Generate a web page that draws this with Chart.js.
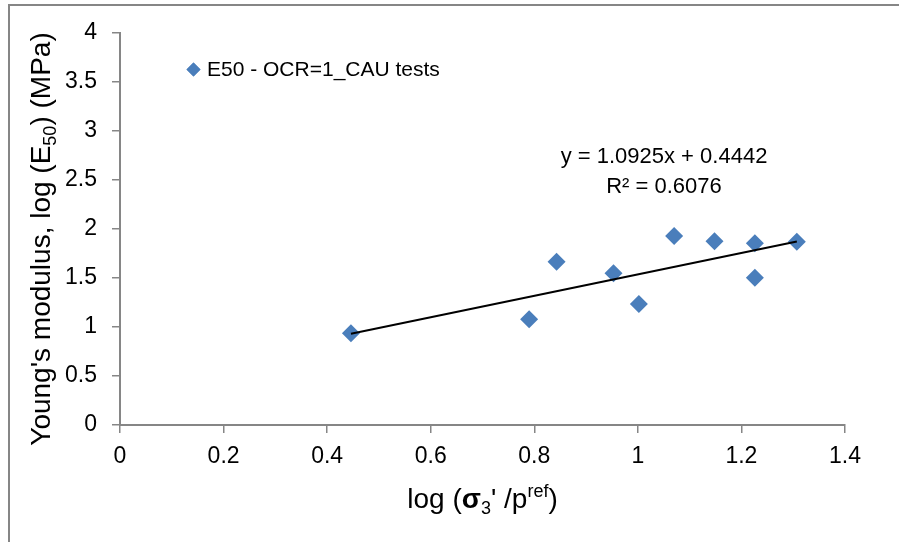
<!DOCTYPE html>
<html><head><meta charset="utf-8">
<script src="https://cdn.jsdelivr.net/npm/chart.js@4.4.1/dist/chart.umd.min.js"></script>
<style>html,body{margin:0;padding:0;background:#fff;}#wrap{width:899px;height:542px;position:relative}</style>
</head><body><div id="wrap"><canvas id="c" width="899" height="542"></canvas></div>
<script>
// ---- data ----
const seriesName = 'E50 - OCR=1_CAU tests';
const xValues = [0.446, 0.790, 0.843, 0.953, 1.002, 1.070, 1.148, 1.226, 1.226, 1.307];
const yValues = [0.936, 1.078, 1.667, 1.548, 1.235, 1.929, 1.874, 1.854, 1.503, 1.871];
const trendSlope = 1.0925;
const trendIntercept = 0.4442;
const trendText = 'y = 1.0925x + 0.4442';
const r2Text = 'R² = 0.6076';
const xTickValues = [0, 0.2, 0.4, 0.6, 0.8, 1, 1.2, 1.4];
const xTickLabels = ['0', '0.2', '0.4', '0.6', '0.8', '1', '1.2', '1.4'];
const yTickValues = [0, 0.5, 1, 1.5, 2, 2.5, 3, 3.5, 4];
const yTickLabels = ['0', '0.5', '1', '1.5', '2', '2.5', '3', '3.5', '4'];
const yTitleParts = [["Young's modulus, log (E", 'n'], ['50', 'sub'], [') (MPa)', 'n']];
const xTitleParts = [['log (', 'n'], ['σ', 'b'], ['3', 'sub'], ["' /p", 'n'], ['ref', 'sup'], [')', 'n']];

const FONT = "'Liberation Sans', Arial, sans-serif";
const BLUE = '#4A7EBB';
const AXIS = '#868686';

const points = xValues.map((x, i) => ({x, y: yValues[i]}));
const tMin = Math.min(...xValues), tMax = Math.max(...xValues);
const trend = [tMin, tMax].map(x => ({x, y: trendSlope * x + trendIntercept}));

function drawRich(ctx, parts, x, y, size) {
  const small = Math.round(size * 0.66);
  const segs = parts.map(([t, k]) => {
    const s = (k === 'sub' || k === 'sup') ? small : size;
    const f = (k === 'b' ? 'bold ' : '') + s + 'px ' + FONT;
    ctx.font = f;
    return {t, f, w: ctx.measureText(t).width, dy: k === 'sub' ? size * 0.2 : (k === 'sup' ? -size * 0.38 : 0)};
  });
  const total = segs.reduce((a, s) => a + s.w, 0);
  let cx = x - total / 2;
  ctx.textAlign = 'left';
  ctx.textBaseline = 'alphabetic';
  ctx.fillStyle = '#000';
  segs.forEach(s => { ctx.font = s.f; ctx.fillText(s.t, cx, y + s.dy); cx += s.w; });
}

const decor = {
  id: 'decor',
  beforeDraw(chart) {
    const ctx = chart.ctx;
    ctx.save();
    ctx.fillStyle = '#fff';
    ctx.fillRect(0, 0, chart.width, chart.height);
    ctx.strokeStyle = AXIS;
    ctx.lineWidth = 2;
    ctx.beginPath();
    ctx.moveTo(9, chart.height); ctx.lineTo(9, 5); ctx.lineTo(chart.width, 5);
    ctx.stroke();
    ctx.restore();
  },
  afterDraw(chart) {
    const ctx = chart.ctx;
    const ca = chart.chartArea;
    ctx.save();
    // legend
    ctx.fillStyle = BLUE;
    Chart.helpers.drawPoint(ctx, {pointStyle: 'rectRot', radius: 7, rotation: 0, borderWidth: 0}, 193.5, 69.5);
    ctx.fill();
    ctx.font = '21px ' + FONT;
    ctx.fillStyle = '#000';
    ctx.textAlign = 'left';
    ctx.textBaseline = 'alphabetic';
    ctx.fillText(seriesName, 207, 76);
    // trend equation
    ctx.font = '22px ' + FONT;
    ctx.textAlign = 'center';
    ctx.fillText(trendText, 664, 163);
    ctx.fillText(r2Text, 664, 193);
    // x title
    drawRich(ctx, xTitleParts, (ca.left + ca.right) / 2, 508, 28);
    // y title
    ctx.translate(50, 239);
    ctx.rotate(-Math.PI / 2);
    drawRich(ctx, yTitleParts, 0, 0, 28);
    ctx.restore();
  }
};

new Chart(document.getElementById('c'), {
  type: 'scatter',
  data: {
    datasets: [
      {
        label: 'Linear trend',
        type: 'line',
        data: trend,
        borderColor: '#000',
        borderWidth: 2,
        pointRadius: 0,
        fill: false,
        tension: 0
      },
      {
        label: seriesName,
        data: points,
        pointStyle: 'rectRot',
        pointRadius: 9,
        pointHoverRadius: 9,
        backgroundColor: BLUE,
        borderColor: BLUE,
        borderWidth: 0
      }
    ]
  },
  options: {
    responsive: false,
    animation: false,
    devicePixelRatio: 1,
    layout: {padding: {top: 33, right: 54, left: 0, bottom: 0}},
    plugins: {legend: {display: false}, tooltip: {enabled: false}},
    scales: {
      x: {
        type: 'linear', min: 0, max: 1.4,
        afterBuildTicks: s => { s.ticks = xTickValues.map(v => ({value: v})); },
        afterFit: s => { s.height = 117; },
        grid: {drawOnChartArea: false, drawTicks: true, tickLength: 8, color: AXIS, lineWidth: 1.5},
        border: {color: AXIS, width: 2},
        ticks: {font: {family: FONT, size: 23}, color: '#000', padding: 10, maxRotation: 0, autoSkip: false,
          callback: (v, i) => xTickLabels[i]}
      },
      y: {
        type: 'linear', min: 0, max: 4,
        afterBuildTicks: s => { s.ticks = yTickValues.map(v => ({value: v})); },
        afterFit: s => { s.width = 120; },
        grid: {drawOnChartArea: false, drawTicks: true, tickLength: 8, color: AXIS, lineWidth: 1.5},
        border: {color: AXIS, width: 2},
        ticks: {font: {family: FONT, size: 23}, color: '#000', padding: 15, autoSkip: false,
          callback: (v, i) => yTickLabels[i]}
      }
    }
  },
  plugins: [decor]
});
</script>
</body></html>
